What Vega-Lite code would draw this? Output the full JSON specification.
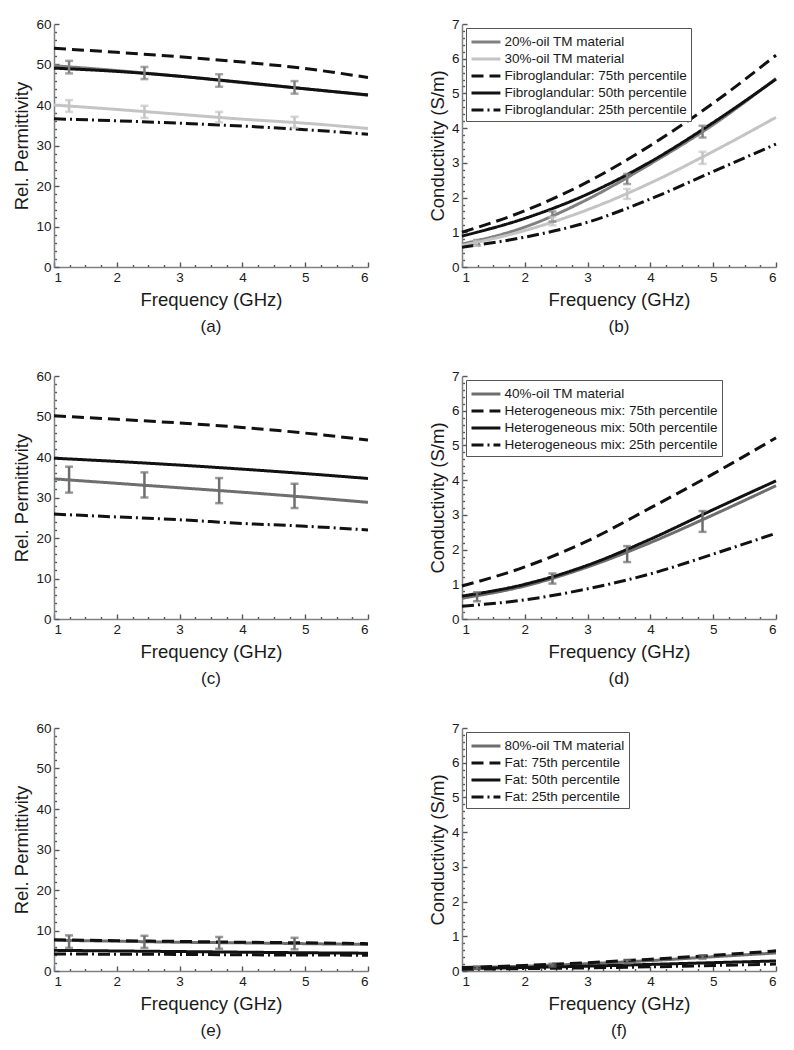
{
"$schema": "https://vega.github.io/schema/vega-lite/v6.json",
"background": "white",
"padding": {"left": 12, "top": 17, "right": 0, "bottom": 0},
"columns": 2,
"spacing": {"row": 109, "column": 94},
"bounds": "flush",
"resolve": {"scale": {"x": "independent", "y": "independent", "color": "independent", "strokeDash": "independent"}, "legend": {"color": "independent", "strokeDash": "independent"}, "axis": {"x": "independent", "y": "independent"}},
"config": {
  "font": "Liberation Sans",
  "view": {"stroke": null},
  "axis": {"domainColor": "#808080", "domainWidth": 1.5, "tickColor": "#555555", "tickWidth": 1.4, "labelFontSize": 13.5, "labelColor": "#1a1a1a", "labelPadding": 8, "labelOverlap": false, "titleFontSize": 18.5, "titleFontWeight": "normal", "titleColor": "#1a1a1a", "titlePadding": 4, "grid": false},
  "legend": {"orient": "top-left", "offset": 4, "symbolType": "M-1,0H2.4", "symbolSize": 289, "symbolStrokeWidth": 3, "symbolOpacity": 1, "labelFontSize": 13.5, "labelColor": "#1a1a1a", "labelLimit": 400, "strokeColor": "#555555", "fillColor": "white", "padding": 4, "rowPadding": 0, "labelOffset": 14.5},
  "title": {"fontSize": 17, "fontWeight": "normal", "color": "#1a1a1a"}
},
"datasets": {
  "lines": [
    {"p":"a","s":"20%-oil TM material","f":1,"v":49.7},{"p":"a","s":"20%-oil TM material","f":2,"v":48.5},{"p":"a","s":"20%-oil TM material","f":3,"v":47.1},{"p":"a","s":"20%-oil TM material","f":4,"v":45.5},{"p":"a","s":"20%-oil TM material","f":5,"v":44.0},{"p":"a","s":"20%-oil TM material","f":6,"v":42.4},
    {"p":"a","s":"30%-oil TM material","f":1,"v":40.0},{"p":"a","s":"30%-oil TM material","f":2,"v":38.9},{"p":"a","s":"30%-oil TM material","f":3,"v":37.7},{"p":"a","s":"30%-oil TM material","f":4,"v":36.5},{"p":"a","s":"30%-oil TM material","f":5,"v":35.5},{"p":"a","s":"30%-oil TM material","f":6,"v":34.2},
    {"p":"a","s":"Fibroglandular: 75th percentile","f":1,"v":54.0},{"p":"a","s":"Fibroglandular: 75th percentile","f":2,"v":53.0},{"p":"a","s":"Fibroglandular: 75th percentile","f":3,"v":51.9},{"p":"a","s":"Fibroglandular: 75th percentile","f":4,"v":50.6},{"p":"a","s":"Fibroglandular: 75th percentile","f":5,"v":49.0},{"p":"a","s":"Fibroglandular: 75th percentile","f":6,"v":46.8},
    {"p":"a","s":"Fibroglandular: 50th percentile","f":1,"v":49.1},{"p":"a","s":"Fibroglandular: 50th percentile","f":2,"v":48.3},{"p":"a","s":"Fibroglandular: 50th percentile","f":3,"v":47.1},{"p":"a","s":"Fibroglandular: 50th percentile","f":4,"v":45.6},{"p":"a","s":"Fibroglandular: 50th percentile","f":5,"v":44.0},{"p":"a","s":"Fibroglandular: 50th percentile","f":6,"v":42.5},
    {"p":"a","s":"Fibroglandular: 25th percentile","f":1,"v":36.6},{"p":"a","s":"Fibroglandular: 25th percentile","f":2,"v":36.1},{"p":"a","s":"Fibroglandular: 25th percentile","f":3,"v":35.5},{"p":"a","s":"Fibroglandular: 25th percentile","f":4,"v":34.8},{"p":"a","s":"Fibroglandular: 25th percentile","f":5,"v":33.9},{"p":"a","s":"Fibroglandular: 25th percentile","f":6,"v":32.8},
    {"p":"b","s":"20%-oil TM material","f":1,"v":0.66},{"p":"b","s":"20%-oil TM material","f":2,"v":1.15},{"p":"b","s":"20%-oil TM material","f":3,"v":1.95},{"p":"b","s":"20%-oil TM material","f":4,"v":2.97},{"p":"b","s":"20%-oil TM material","f":5,"v":4.1},{"p":"b","s":"20%-oil TM material","f":6,"v":5.43},
    {"p":"b","s":"30%-oil TM material","f":1,"v":0.62},{"p":"b","s":"30%-oil TM material","f":2,"v":1.05},{"p":"b","s":"30%-oil TM material","f":3,"v":1.65},{"p":"b","s":"30%-oil TM material","f":4,"v":2.42},{"p":"b","s":"30%-oil TM material","f":5,"v":3.33},{"p":"b","s":"30%-oil TM material","f":6,"v":4.31},
    {"p":"b","s":"Fibroglandular: 75th percentile","f":1,"v":1.0},{"p":"b","s":"Fibroglandular: 75th percentile","f":2,"v":1.62},{"p":"b","s":"Fibroglandular: 75th percentile","f":3,"v":2.45},{"p":"b","s":"Fibroglandular: 75th percentile","f":4,"v":3.5},{"p":"b","s":"Fibroglandular: 75th percentile","f":5,"v":4.72},{"p":"b","s":"Fibroglandular: 75th percentile","f":6,"v":6.1},
    {"p":"b","s":"Fibroglandular: 50th percentile","f":1,"v":0.89},{"p":"b","s":"Fibroglandular: 50th percentile","f":2,"v":1.4},{"p":"b","s":"Fibroglandular: 50th percentile","f":3,"v":2.1},{"p":"b","s":"Fibroglandular: 50th percentile","f":4,"v":3.03},{"p":"b","s":"Fibroglandular: 50th percentile","f":5,"v":4.16},{"p":"b","s":"Fibroglandular: 50th percentile","f":6,"v":5.41},
    {"p":"b","s":"Fibroglandular: 25th percentile","f":1,"v":0.57},{"p":"b","s":"Fibroglandular: 25th percentile","f":2,"v":0.86},{"p":"b","s":"Fibroglandular: 25th percentile","f":3,"v":1.29},{"p":"b","s":"Fibroglandular: 25th percentile","f":4,"v":1.96},{"p":"b","s":"Fibroglandular: 25th percentile","f":5,"v":2.75},{"p":"b","s":"Fibroglandular: 25th percentile","f":6,"v":3.54},
    {"p":"c","s":"40%-oil TM material","f":1,"v":34.6},{"p":"c","s":"40%-oil TM material","f":2,"v":33.5},{"p":"c","s":"40%-oil TM material","f":3,"v":32.4},{"p":"c","s":"40%-oil TM material","f":4,"v":31.3},{"p":"c","s":"40%-oil TM material","f":5,"v":30.1},{"p":"c","s":"40%-oil TM material","f":6,"v":28.8},
    {"p":"c","s":"Heterogeneous mix: 75th percentile","f":1,"v":50.2},{"p":"c","s":"Heterogeneous mix: 75th percentile","f":2,"v":49.3},{"p":"c","s":"Heterogeneous mix: 75th percentile","f":3,"v":48.4},{"p":"c","s":"Heterogeneous mix: 75th percentile","f":4,"v":47.3},{"p":"c","s":"Heterogeneous mix: 75th percentile","f":5,"v":45.9},{"p":"c","s":"Heterogeneous mix: 75th percentile","f":6,"v":44.2},
    {"p":"c","s":"Heterogeneous mix: 50th percentile","f":1,"v":39.7},{"p":"c","s":"Heterogeneous mix: 50th percentile","f":2,"v":38.9},{"p":"c","s":"Heterogeneous mix: 50th percentile","f":3,"v":38.0},{"p":"c","s":"Heterogeneous mix: 50th percentile","f":4,"v":37.0},{"p":"c","s":"Heterogeneous mix: 50th percentile","f":5,"v":35.9},{"p":"c","s":"Heterogeneous mix: 50th percentile","f":6,"v":34.7},
    {"p":"c","s":"Heterogeneous mix: 25th percentile","f":1,"v":25.9},{"p":"c","s":"Heterogeneous mix: 25th percentile","f":2,"v":25.2},{"p":"c","s":"Heterogeneous mix: 25th percentile","f":3,"v":24.5},{"p":"c","s":"Heterogeneous mix: 25th percentile","f":4,"v":23.6},{"p":"c","s":"Heterogeneous mix: 25th percentile","f":5,"v":22.9},{"p":"c","s":"Heterogeneous mix: 25th percentile","f":6,"v":22.0},
    {"p":"d","s":"40%-oil TM material","f":1,"v":0.6},{"p":"d","s":"40%-oil TM material","f":2,"v":0.95},{"p":"d","s":"40%-oil TM material","f":3,"v":1.5},{"p":"d","s":"40%-oil TM material","f":4,"v":2.2},{"p":"d","s":"40%-oil TM material","f":5,"v":3.0},{"p":"d","s":"40%-oil TM material","f":6,"v":3.84},
    {"p":"d","s":"Heterogeneous mix: 75th percentile","f":1,"v":0.95},{"p":"d","s":"Heterogeneous mix: 75th percentile","f":2,"v":1.5},{"p":"d","s":"Heterogeneous mix: 75th percentile","f":3,"v":2.25},{"p":"d","s":"Heterogeneous mix: 75th percentile","f":4,"v":3.2},{"p":"d","s":"Heterogeneous mix: 75th percentile","f":5,"v":4.18},{"p":"d","s":"Heterogeneous mix: 75th percentile","f":6,"v":5.22},
    {"p":"d","s":"Heterogeneous mix: 50th percentile","f":1,"v":0.66},{"p":"d","s":"Heterogeneous mix: 50th percentile","f":2,"v":1.0},{"p":"d","s":"Heterogeneous mix: 50th percentile","f":3,"v":1.55},{"p":"d","s":"Heterogeneous mix: 50th percentile","f":4,"v":2.3},{"p":"d","s":"Heterogeneous mix: 50th percentile","f":5,"v":3.15},{"p":"d","s":"Heterogeneous mix: 50th percentile","f":6,"v":3.98},
    {"p":"d","s":"Heterogeneous mix: 25th percentile","f":1,"v":0.37},{"p":"d","s":"Heterogeneous mix: 25th percentile","f":2,"v":0.55},{"p":"d","s":"Heterogeneous mix: 25th percentile","f":3,"v":0.87},{"p":"d","s":"Heterogeneous mix: 25th percentile","f":4,"v":1.3},{"p":"d","s":"Heterogeneous mix: 25th percentile","f":5,"v":1.87},{"p":"d","s":"Heterogeneous mix: 25th percentile","f":6,"v":2.47},
    {"p":"e","s":"80%-oil TM material","f":1,"v":7.6},{"p":"e","s":"80%-oil TM material","f":2,"v":7.35},{"p":"e","s":"80%-oil TM material","f":3,"v":7.1},{"p":"e","s":"80%-oil TM material","f":4,"v":6.95},{"p":"e","s":"80%-oil TM material","f":5,"v":6.75},{"p":"e","s":"80%-oil TM material","f":6,"v":6.55},
    {"p":"e","s":"Fat: 75th percentile","f":1,"v":7.7},{"p":"e","s":"Fat: 75th percentile","f":2,"v":7.5},{"p":"e","s":"Fat: 75th percentile","f":3,"v":7.3},{"p":"e","s":"Fat: 75th percentile","f":4,"v":7.1},{"p":"e","s":"Fat: 75th percentile","f":5,"v":6.95},{"p":"e","s":"Fat: 75th percentile","f":6,"v":6.75},
    {"p":"e","s":"Fat: 50th percentile","f":1,"v":5.1},{"p":"e","s":"Fat: 50th percentile","f":2,"v":4.95},{"p":"e","s":"Fat: 50th percentile","f":3,"v":4.8},{"p":"e","s":"Fat: 50th percentile","f":4,"v":4.65},{"p":"e","s":"Fat: 50th percentile","f":5,"v":4.5},{"p":"e","s":"Fat: 50th percentile","f":6,"v":4.4},
    {"p":"e","s":"Fat: 25th percentile","f":1,"v":4.2},{"p":"e","s":"Fat: 25th percentile","f":2,"v":4.15},{"p":"e","s":"Fat: 25th percentile","f":3,"v":4.1},{"p":"e","s":"Fat: 25th percentile","f":4,"v":4.0},{"p":"e","s":"Fat: 25th percentile","f":5,"v":3.95},{"p":"e","s":"Fat: 25th percentile","f":6,"v":3.9},
    {"p":"f","s":"80%-oil TM material","f":1,"v":0.09},{"p":"f","s":"80%-oil TM material","f":2,"v":0.14},{"p":"f","s":"80%-oil TM material","f":3,"v":0.21},{"p":"f","s":"80%-oil TM material","f":4,"v":0.3},{"p":"f","s":"80%-oil TM material","f":5,"v":0.41},{"p":"f","s":"80%-oil TM material","f":6,"v":0.52},
    {"p":"f","s":"Fat: 75th percentile","f":1,"v":0.1},{"p":"f","s":"Fat: 75th percentile","f":2,"v":0.16},{"p":"f","s":"Fat: 75th percentile","f":3,"v":0.24},{"p":"f","s":"Fat: 75th percentile","f":4,"v":0.34},{"p":"f","s":"Fat: 75th percentile","f":5,"v":0.45},{"p":"f","s":"Fat: 75th percentile","f":6,"v":0.58},
    {"p":"f","s":"Fat: 50th percentile","f":1,"v":0.07},{"p":"f","s":"Fat: 50th percentile","f":2,"v":0.1},{"p":"f","s":"Fat: 50th percentile","f":3,"v":0.14},{"p":"f","s":"Fat: 50th percentile","f":4,"v":0.19},{"p":"f","s":"Fat: 50th percentile","f":5,"v":0.24},{"p":"f","s":"Fat: 50th percentile","f":6,"v":0.29},
    {"p":"f","s":"Fat: 25th percentile","f":1,"v":0.05},{"p":"f","s":"Fat: 25th percentile","f":2,"v":0.07},{"p":"f","s":"Fat: 25th percentile","f":3,"v":0.09},{"p":"f","s":"Fat: 25th percentile","f":4,"v":0.12},{"p":"f","s":"Fat: 25th percentile","f":5,"v":0.16},{"p":"f","s":"Fat: 25th percentile","f":6,"v":0.2}
  ],
  "err": [
    {"p":"a","s":"20%-oil TM material","f":1.24,"v":47.8},{"p":"a","s":"20%-oil TM material","f":1.24,"v":50.9},
    {"p":"a","s":"20%-oil TM material","f":2.44,"v":46.4},{"p":"a","s":"20%-oil TM material","f":2.44,"v":49.4},
    {"p":"a","s":"20%-oil TM material","f":3.63,"v":44.5},{"p":"a","s":"20%-oil TM material","f":3.63,"v":47.6},
    {"p":"a","s":"20%-oil TM material","f":4.83,"v":42.8},{"p":"a","s":"20%-oil TM material","f":4.83,"v":45.9},
    {"p":"a","s":"30%-oil TM material","f":1.24,"v":38.3},{"p":"a","s":"30%-oil TM material","f":1.24,"v":41.2},
    {"p":"a","s":"30%-oil TM material","f":2.44,"v":36.8},{"p":"a","s":"30%-oil TM material","f":2.44,"v":39.8},
    {"p":"a","s":"30%-oil TM material","f":3.63,"v":35.7},{"p":"a","s":"30%-oil TM material","f":3.63,"v":38.3},
    {"p":"a","s":"30%-oil TM material","f":4.83,"v":34.4},{"p":"a","s":"30%-oil TM material","f":4.83,"v":37.1},
    {"p":"b","s":"20%-oil TM material","f":1.24,"v":0.62},{"p":"b","s":"20%-oil TM material","f":1.24,"v":0.78},
    {"p":"b","s":"20%-oil TM material","f":2.44,"v":1.31},{"p":"b","s":"20%-oil TM material","f":2.44,"v":1.6},
    {"p":"b","s":"20%-oil TM material","f":3.63,"v":2.39},{"p":"b","s":"20%-oil TM material","f":3.63,"v":2.68},
    {"p":"b","s":"20%-oil TM material","f":4.83,"v":3.73},{"p":"b","s":"20%-oil TM material","f":4.83,"v":4.07},
    {"p":"b","s":"30%-oil TM material","f":1.24,"v":0.61},{"p":"b","s":"30%-oil TM material","f":1.24,"v":0.75},
    {"p":"b","s":"30%-oil TM material","f":2.44,"v":1.2},{"p":"b","s":"30%-oil TM material","f":2.44,"v":1.44},
    {"p":"b","s":"30%-oil TM material","f":3.63,"v":1.96},{"p":"b","s":"30%-oil TM material","f":3.63,"v":2.25},
    {"p":"b","s":"30%-oil TM material","f":4.83,"v":2.97},{"p":"b","s":"30%-oil TM material","f":4.83,"v":3.32},
    {"p":"c","s":"40%-oil TM material","f":1.24,"v":31.2},{"p":"c","s":"40%-oil TM material","f":1.24,"v":37.6},
    {"p":"c","s":"40%-oil TM material","f":2.44,"v":30.0},{"p":"c","s":"40%-oil TM material","f":2.44,"v":36.2},
    {"p":"c","s":"40%-oil TM material","f":3.63,"v":28.6},{"p":"c","s":"40%-oil TM material","f":3.63,"v":34.8},
    {"p":"c","s":"40%-oil TM material","f":4.83,"v":27.4},{"p":"c","s":"40%-oil TM material","f":4.83,"v":33.4},
    {"p":"d","s":"40%-oil TM material","f":1.24,"v":0.51},{"p":"d","s":"40%-oil TM material","f":1.24,"v":0.77},
    {"p":"d","s":"40%-oil TM material","f":2.44,"v":1.02},{"p":"d","s":"40%-oil TM material","f":2.44,"v":1.31},
    {"p":"d","s":"40%-oil TM material","f":3.63,"v":1.64},{"p":"d","s":"40%-oil TM material","f":3.63,"v":2.1},
    {"p":"d","s":"40%-oil TM material","f":4.83,"v":2.51},{"p":"d","s":"40%-oil TM material","f":4.83,"v":3.11},
    {"p":"e","s":"80%-oil TM material","f":1.24,"v":5.7},{"p":"e","s":"80%-oil TM material","f":1.24,"v":8.8},
    {"p":"e","s":"80%-oil TM material","f":2.44,"v":5.7},{"p":"e","s":"80%-oil TM material","f":2.44,"v":8.7},
    {"p":"e","s":"80%-oil TM material","f":3.63,"v":5.5},{"p":"e","s":"80%-oil TM material","f":3.63,"v":8.4},
    {"p":"e","s":"80%-oil TM material","f":4.83,"v":5.35},{"p":"e","s":"80%-oil TM material","f":4.83,"v":8.2},
    {"p":"f","s":"80%-oil TM material","f":1.24,"v":0.06},{"p":"f","s":"80%-oil TM material","f":1.24,"v":0.14},
    {"p":"f","s":"80%-oil TM material","f":2.44,"v":0.13},{"p":"f","s":"80%-oil TM material","f":2.44,"v":0.21},
    {"p":"f","s":"80%-oil TM material","f":3.63,"v":0.22},{"p":"f","s":"80%-oil TM material","f":3.63,"v":0.32},
    {"p":"f","s":"80%-oil TM material","f":4.83,"v":0.35},{"p":"f","s":"80%-oil TM material","f":4.83,"v":0.45}
  ]
},
"concat": [
  {
    "width": 314, "height": 243,
    "title": {"text": "(a)", "orient": "bottom", "offset": 10},
    "encoding": {
      "x": {"field": "f", "type": "quantitative", "title": "Frequency (GHz)", "scale": {"domain": [1, 6], "nice": false, "zero": false}, "axis": {"values": [1,1.25,1.5,1.75,2,2.25,2.5,2.75,3,3.25,3.5,3.75,4,4.25,4.5,4.75,5,5.25,5.5,5.75,6], "labelExpr": "datum.value % 1 === 0 ? format(datum.value, 'd') : ''", "tickSize": {"condition": {"test": "datum.value % 1 === 0", "value": -5}, "value": -2.5}}},
      "y": {"field": "v", "type": "quantitative", "title": "Rel. Permittivity", "scale": {"domain": [0, 60], "nice": false}, "axis": {"values": [0,2,4,6,8,10,12,14,16,18,20,22,24,26,28,30,32,34,36,38,40,42,44,46,48,50,52,54,56,58,60], "labelExpr": "datum.value % 10 === 0 ? format(datum.value, 'd') : ''", "tickSize": {"condition": {"test": "datum.value % 10 === 0", "value": -5}, "value": -2.5}}},
      "color": {"field": "s", "type": "nominal", "scale": {"domain": ["20%-oil TM material","30%-oil TM material","Fibroglandular: 75th percentile","Fibroglandular: 50th percentile","Fibroglandular: 25th percentile"], "range": ["#808080","#c4c4c4","#111111","#111111","#111111"]}, "legend": null}
    },
    "layer": [
      {"data": {"name": "lines"}, "transform": [{"filter": "datum.p === 'a'"}], "mark": {"type": "line", "interpolate": "monotone", "strokeWidth": 3}, "encoding": {"strokeDash": {"field": "s", "type": "nominal", "scale": {"domain": ["20%-oil TM material","30%-oil TM material","Fibroglandular: 75th percentile","Fibroglandular: 50th percentile","Fibroglandular: 25th percentile"], "range": [[1,0],[1,0],[12,6],[1,0],[12,4,2,4]]}, "legend": null}}},
      {"data": {"name": "err"}, "transform": [{"filter": "datum.p === 'a'"}], "layer": [
        {"mark": {"type": "line", "strokeWidth": 2.5}, "encoding": {"detail": {"field": "f", "type": "quantitative"}}},
        {"mark": {"type": "tick", "orient": "horizontal", "size": 8, "thickness": 2.5}}
      ]}
    ]
  },
  {
    "width": 314, "height": 243,
    "title": {"text": "(b)", "orient": "bottom", "offset": 10},
    "encoding": {
      "x": {"field": "f", "type": "quantitative", "title": "Frequency (GHz)", "scale": {"domain": [1, 6], "nice": false, "zero": false}, "axis": {"values": [1,1.25,1.5,1.75,2,2.25,2.5,2.75,3,3.25,3.5,3.75,4,4.25,4.5,4.75,5,5.25,5.5,5.75,6], "labelExpr": "datum.value % 1 === 0 ? format(datum.value, 'd') : ''", "tickSize": {"condition": {"test": "datum.value % 1 === 0", "value": -5}, "value": -2.5}}},
      "y": {"field": "v", "type": "quantitative", "title": "Conductivity (S/m)", "scale": {"domain": [0, 7], "nice": false}, "axis": {"values": [0,0.2,0.4,0.6,0.8,1,1.2,1.4,1.6,1.8,2,2.2,2.4,2.6,2.8,3,3.2,3.4,3.6,3.8,4,4.2,4.4,4.6,4.8,5,5.2,5.4,5.6,5.8,6,6.2,6.4,6.6,6.8,7], "labelExpr": "datum.value % 1 === 0 ? format(datum.value, 'd') : ''", "tickSize": {"condition": {"test": "datum.value % 1 === 0", "value": -5}, "value": -2.5}}},
      "color": {"field": "s", "type": "nominal", "scale": {"domain": ["20%-oil TM material","30%-oil TM material","Fibroglandular: 75th percentile","Fibroglandular: 50th percentile","Fibroglandular: 25th percentile"], "range": ["#808080","#c4c4c4","#111111","#111111","#111111"]}, "legend": {"title": null}}
    },
    "layer": [
      {"data": {"name": "lines"}, "transform": [{"filter": "datum.p === 'b'"}], "mark": {"type": "line", "interpolate": "monotone", "strokeWidth": 3}, "encoding": {"strokeDash": {"field": "s", "type": "nominal", "scale": {"domain": ["20%-oil TM material","30%-oil TM material","Fibroglandular: 75th percentile","Fibroglandular: 50th percentile","Fibroglandular: 25th percentile"], "range": [[1,0],[1,0],[12,6],[1,0],[12,4,2,4]]}, "legend": {"title": null}}}},
      {"data": {"name": "err"}, "transform": [{"filter": "datum.p === 'b'"}], "layer": [
        {"mark": {"type": "line", "strokeWidth": 2.5}, "encoding": {"detail": {"field": "f", "type": "quantitative"}}},
        {"mark": {"type": "tick", "orient": "horizontal", "size": 8, "thickness": 2.5}}
      ]}
    ]
  },
  {
    "width": 314, "height": 243,
    "title": {"text": "(c)", "orient": "bottom", "offset": 10},
    "encoding": {
      "x": {"field": "f", "type": "quantitative", "title": "Frequency (GHz)", "scale": {"domain": [1, 6], "nice": false, "zero": false}, "axis": {"values": [1,1.25,1.5,1.75,2,2.25,2.5,2.75,3,3.25,3.5,3.75,4,4.25,4.5,4.75,5,5.25,5.5,5.75,6], "labelExpr": "datum.value % 1 === 0 ? format(datum.value, 'd') : ''", "tickSize": {"condition": {"test": "datum.value % 1 === 0", "value": -5}, "value": -2.5}}},
      "y": {"field": "v", "type": "quantitative", "title": "Rel. Permittivity", "scale": {"domain": [0, 60], "nice": false}, "axis": {"values": [0,2,4,6,8,10,12,14,16,18,20,22,24,26,28,30,32,34,36,38,40,42,44,46,48,50,52,54,56,58,60], "labelExpr": "datum.value % 10 === 0 ? format(datum.value, 'd') : ''", "tickSize": {"condition": {"test": "datum.value % 10 === 0", "value": -5}, "value": -2.5}}},
      "color": {"field": "s", "type": "nominal", "scale": {"domain": ["40%-oil TM material","Heterogeneous mix: 75th percentile","Heterogeneous mix: 50th percentile","Heterogeneous mix: 25th percentile"], "range": ["#6e6e6e","#111111","#111111","#111111"]}, "legend": null}
    },
    "layer": [
      {"data": {"name": "lines"}, "transform": [{"filter": "datum.p === 'c'"}], "mark": {"type": "line", "interpolate": "monotone", "strokeWidth": 3}, "encoding": {"strokeDash": {"field": "s", "type": "nominal", "scale": {"domain": ["40%-oil TM material","Heterogeneous mix: 75th percentile","Heterogeneous mix: 50th percentile","Heterogeneous mix: 25th percentile"], "range": [[1,0],[12,6],[1,0],[12,4,2,4]]}, "legend": null}}},
      {"data": {"name": "err"}, "transform": [{"filter": "datum.p === 'c'"}], "layer": [
        {"mark": {"type": "line", "strokeWidth": 2.5}, "encoding": {"detail": {"field": "f", "type": "quantitative"}}},
        {"mark": {"type": "tick", "orient": "horizontal", "size": 8, "thickness": 2.5}}
      ]}
    ]
  },
  {
    "width": 314, "height": 243,
    "title": {"text": "(d)", "orient": "bottom", "offset": 10},
    "encoding": {
      "x": {"field": "f", "type": "quantitative", "title": "Frequency (GHz)", "scale": {"domain": [1, 6], "nice": false, "zero": false}, "axis": {"values": [1,1.25,1.5,1.75,2,2.25,2.5,2.75,3,3.25,3.5,3.75,4,4.25,4.5,4.75,5,5.25,5.5,5.75,6], "labelExpr": "datum.value % 1 === 0 ? format(datum.value, 'd') : ''", "tickSize": {"condition": {"test": "datum.value % 1 === 0", "value": -5}, "value": -2.5}}},
      "y": {"field": "v", "type": "quantitative", "title": "Conductivity (S/m)", "scale": {"domain": [0, 7], "nice": false}, "axis": {"values": [0,0.2,0.4,0.6,0.8,1,1.2,1.4,1.6,1.8,2,2.2,2.4,2.6,2.8,3,3.2,3.4,3.6,3.8,4,4.2,4.4,4.6,4.8,5,5.2,5.4,5.6,5.8,6,6.2,6.4,6.6,6.8,7], "labelExpr": "datum.value % 1 === 0 ? format(datum.value, 'd') : ''", "tickSize": {"condition": {"test": "datum.value % 1 === 0", "value": -5}, "value": -2.5}}},
      "color": {"field": "s", "type": "nominal", "scale": {"domain": ["40%-oil TM material","Heterogeneous mix: 75th percentile","Heterogeneous mix: 50th percentile","Heterogeneous mix: 25th percentile"], "range": ["#6e6e6e","#111111","#111111","#111111"]}, "legend": {"title": null}}
    },
    "layer": [
      {"data": {"name": "lines"}, "transform": [{"filter": "datum.p === 'd'"}], "mark": {"type": "line", "interpolate": "monotone", "strokeWidth": 3}, "encoding": {"strokeDash": {"field": "s", "type": "nominal", "scale": {"domain": ["40%-oil TM material","Heterogeneous mix: 75th percentile","Heterogeneous mix: 50th percentile","Heterogeneous mix: 25th percentile"], "range": [[1,0],[12,6],[1,0],[12,4,2,4]]}, "legend": {"title": null}}}},
      {"data": {"name": "err"}, "transform": [{"filter": "datum.p === 'd'"}], "layer": [
        {"mark": {"type": "line", "strokeWidth": 2.5}, "encoding": {"detail": {"field": "f", "type": "quantitative"}}},
        {"mark": {"type": "tick", "orient": "horizontal", "size": 8, "thickness": 2.5}}
      ]}
    ]
  },
  {
    "width": 314, "height": 243,
    "title": {"text": "(e)", "orient": "bottom", "offset": 10},
    "encoding": {
      "x": {"field": "f", "type": "quantitative", "title": "Frequency (GHz)", "scale": {"domain": [1, 6], "nice": false, "zero": false}, "axis": {"values": [1,1.25,1.5,1.75,2,2.25,2.5,2.75,3,3.25,3.5,3.75,4,4.25,4.5,4.75,5,5.25,5.5,5.75,6], "labelExpr": "datum.value % 1 === 0 ? format(datum.value, 'd') : ''", "tickSize": {"condition": {"test": "datum.value % 1 === 0", "value": -5}, "value": -2.5}}},
      "y": {"field": "v", "type": "quantitative", "title": "Rel. Permittivity", "scale": {"domain": [0, 60], "nice": false}, "axis": {"values": [0,2,4,6,8,10,12,14,16,18,20,22,24,26,28,30,32,34,36,38,40,42,44,46,48,50,52,54,56,58,60], "labelExpr": "datum.value % 10 === 0 ? format(datum.value, 'd') : ''", "tickSize": {"condition": {"test": "datum.value % 10 === 0", "value": -5}, "value": -2.5}}},
      "color": {"field": "s", "type": "nominal", "scale": {"domain": ["80%-oil TM material","Fat: 75th percentile","Fat: 50th percentile","Fat: 25th percentile"], "range": ["#6e6e6e","#111111","#111111","#111111"]}, "legend": null}
    },
    "layer": [
      {"data": {"name": "lines"}, "transform": [{"filter": "datum.p === 'e'"}], "mark": {"type": "line", "interpolate": "monotone", "strokeWidth": 3}, "encoding": {"strokeDash": {"field": "s", "type": "nominal", "scale": {"domain": ["80%-oil TM material","Fat: 75th percentile","Fat: 50th percentile","Fat: 25th percentile"], "range": [[1,0],[12,6],[1,0],[12,4,2,4]]}, "legend": null}}},
      {"data": {"name": "err"}, "transform": [{"filter": "datum.p === 'e'"}], "layer": [
        {"mark": {"type": "line", "strokeWidth": 2.5}, "encoding": {"detail": {"field": "f", "type": "quantitative"}}},
        {"mark": {"type": "tick", "orient": "horizontal", "size": 8, "thickness": 2.5}}
      ]}
    ]
  },
  {
    "width": 314, "height": 243,
    "title": {"text": "(f)", "orient": "bottom", "offset": 10},
    "encoding": {
      "x": {"field": "f", "type": "quantitative", "title": "Frequency (GHz)", "scale": {"domain": [1, 6], "nice": false, "zero": false}, "axis": {"values": [1,1.25,1.5,1.75,2,2.25,2.5,2.75,3,3.25,3.5,3.75,4,4.25,4.5,4.75,5,5.25,5.5,5.75,6], "labelExpr": "datum.value % 1 === 0 ? format(datum.value, 'd') : ''", "tickSize": {"condition": {"test": "datum.value % 1 === 0", "value": -5}, "value": -2.5}}},
      "y": {"field": "v", "type": "quantitative", "title": "Conductivity (S/m)", "scale": {"domain": [0, 7], "nice": false}, "axis": {"values": [0,0.2,0.4,0.6,0.8,1,1.2,1.4,1.6,1.8,2,2.2,2.4,2.6,2.8,3,3.2,3.4,3.6,3.8,4,4.2,4.4,4.6,4.8,5,5.2,5.4,5.6,5.8,6,6.2,6.4,6.6,6.8,7], "labelExpr": "datum.value % 1 === 0 ? format(datum.value, 'd') : ''", "tickSize": {"condition": {"test": "datum.value % 1 === 0", "value": -5}, "value": -2.5}}},
      "color": {"field": "s", "type": "nominal", "scale": {"domain": ["80%-oil TM material","Fat: 75th percentile","Fat: 50th percentile","Fat: 25th percentile"], "range": ["#6e6e6e","#111111","#111111","#111111"]}, "legend": {"title": null}}
    },
    "layer": [
      {"data": {"name": "lines"}, "transform": [{"filter": "datum.p === 'f'"}], "mark": {"type": "line", "interpolate": "monotone", "strokeWidth": 3}, "encoding": {"strokeDash": {"field": "s", "type": "nominal", "scale": {"domain": ["80%-oil TM material","Fat: 75th percentile","Fat: 50th percentile","Fat: 25th percentile"], "range": [[1,0],[12,6],[1,0],[12,4,2,4]]}, "legend": {"title": null}}}},
      {"data": {"name": "err"}, "transform": [{"filter": "datum.p === 'f'"}], "layer": [
        {"mark": {"type": "line", "strokeWidth": 2.5}, "encoding": {"detail": {"field": "f", "type": "quantitative"}}},
        {"mark": {"type": "tick", "orient": "horizontal", "size": 8, "thickness": 2.5}}
      ]}
    ]
  }
]
}
